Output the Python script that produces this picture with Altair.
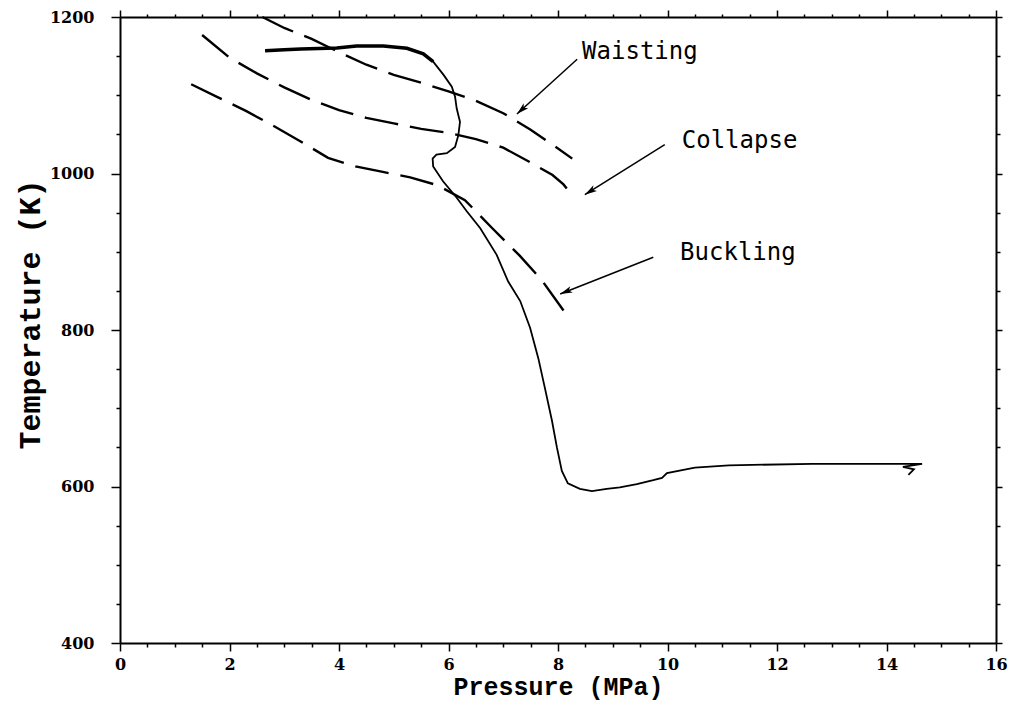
import altair as alt
import pandas as pd

# ---------------- data ----------------
# measured trajectory (solid line)
solid_p = [2.65, 3.0, 3.3, 3.96, 4.32, 4.81, 5.24, 5.54, 5.72, 5.91, 6.06, 6.12, 6.15, 6.21,
           6.18, 6.12, 5.97, 5.78, 5.71, 5.72, 5.90, 6.15, 6.33, 6.58, 6.88, 7.09, 7.31,
           7.49, 7.64, 7.76, 7.89, 7.98, 8.07, 8.18, 8.40, 8.62, 8.89, 9.13, 9.44, 9.74,
           9.90, 9.99, 10.5, 11.12, 12.64, 13.86, 14.65, 14.3, 14.5, 14.4]
solid_t = [1157, 1158, 1159, 1160.5, 1163, 1163, 1160, 1153, 1143, 1126, 1111, 1098, 1083, 1066,
           1049, 1034, 1026, 1024, 1019, 1009, 990, 969, 952, 930, 896, 862, 837,
           803, 764, 726, 684, 650, 620, 604, 597, 594, 597, 599, 603, 608,
           611, 617, 624, 627, 629, 629, 629, 625, 622, 615]

# dashed limit curves
waisting_p = [2.6, 3.0, 3.5, 4.0, 4.5, 5.0, 5.5, 6.0, 6.5, 7.0, 7.5, 8.0, 8.26]
waisting_t = [1200, 1186, 1172, 1155, 1139, 1126, 1116, 1105, 1093, 1077, 1056, 1032, 1019]

collapse_p = [1.5, 2.0, 2.5, 3.0, 3.5, 4.0, 4.5, 5.0, 5.5, 6.0, 6.5, 7.0, 7.5, 7.9, 8.1, 8.27]
collapse_t = [1177, 1148, 1128, 1110, 1094, 1081, 1071, 1064, 1057, 1052, 1044, 1033, 1014, 998, 986, 971]

buckling_p = [1.3, 1.8, 2.3, 2.8, 3.3, 3.8, 4.3, 4.8, 5.3, 5.8, 6.3, 6.8, 7.3, 7.7, 8.15]
buckling_t = [1114, 1097, 1080, 1061, 1041, 1020, 1009, 1002, 995, 985, 966, 930, 895, 864, 820]

# annotations
label_text = ["Waisting", "Collapse", "Buckling"]
label_p = [8.44, 10.26, 10.23]
label_t = [1155, 1041, 898]
arrow_from_p = [8.35, 9.95, 9.74]
arrow_from_t = [1146, 1037, 893]
arrow_to_p = [7.25, 8.49, 8.04]
arrow_to_t = [1076, 973, 846]
arrow_angle = [227.5, 238, 248]

x_ticks = [i * 0.5 for i in range(33)]
y_ticks = [400 + 50 * i for i in range(17)]

# ---------------- frames ----------------
def curve(p, t):
    return pd.DataFrame({"p": p, "t": t, "i": list(range(len(p)))})

solid_df = curve(solid_p, solid_t)
solid_thick_df = curve(solid_p[:9], solid_t[:9])
waist_df = curve(waisting_p, waisting_t)
coll_df = curve(collapse_p, collapse_t)
buck_df = curve(buckling_p, buckling_t)
lab_df = pd.DataFrame({"text": label_text, "p": label_p, "t": label_t})
arr_df = pd.DataFrame({"p": arrow_from_p, "t": arrow_from_t,
                       "p2": arrow_to_p, "t2": arrow_to_t, "angle": arrow_angle})

xs = alt.Scale(domain=[0, 16], nice=False, zero=False)
ys = alt.Scale(domain=[400, 1200], nice=False, zero=False)

TICK_FONT = "DejaVu Serif"
TITLE_FONT = "Liberation Mono"

x_bottom = alt.Axis(
    values=x_ticks, orient="bottom", title="Pressure (MPa)",
    labelExpr="datum.value % 2 === 0 ? format(datum.value, 'd') : ''",
    tickSize={"condition": {"test": "datum.value % 2 === 0", "value": 8}, "value": 4},
    labelFont=TICK_FONT, labelFontSize=16, labelFontWeight="bold", labelColor="black",
    labelPadding=5, labelFlush=False,
    titleFont=TITLE_FONT, titleFontSize=25, titleFontWeight="bold", titleColor="black",
    titlePadding=2, grid=False, domainColor="black", domainWidth=2,
    tickColor="black", tickWidth=1.5,
)
y_left = alt.Axis(
    values=y_ticks, orient="left", title="Temperature (K)",
    labelExpr="datum.value % 200 === 0 ? format(datum.value, 'd') : ''",
    tickSize={"condition": {"test": "datum.value % 200 === 0", "value": 9}, "value": 4},
    labelFont=TICK_FONT, labelFontSize=16, labelFontWeight="bold", labelColor="black",
    labelPadding=17, labelFlush=False,
    titleFont=TITLE_FONT, titleFontSize=30, titleFontWeight="bold", titleColor="black",
    titlePadding=4, titleY=297, grid=False, domainColor="black", domainWidth=2,
    tickColor="black", tickWidth=1.5,
)
x_top = alt.Axis(
    values=x_ticks, orient="top", title=None, labels=False,
    tickSize={"condition": {"test": "datum.value % 2 === 0", "value": 7}, "value": 3},
    grid=False, domainColor="black", domainWidth=2, tickColor="black", tickWidth=1.5,
)
y_right = alt.Axis(
    values=y_ticks, orient="right", title=None, labels=False,
    tickSize={"condition": {"test": "datum.value % 200 === 0", "value": 6}, "value": 4},
    grid=False, domainColor="black", domainWidth=2, tickColor="black", tickWidth=1.5,
)

solid = alt.Chart(solid_df).mark_line(color="black", strokeWidth=1.8).encode(
    x=alt.X("p:Q", scale=xs, axis=x_bottom),
    y=alt.Y("t:Q", scale=ys, axis=y_left),
    order="i:Q",
)
solid_thick = alt.Chart(solid_thick_df).mark_line(color="black", strokeWidth=3.5).encode(
    x=alt.X("p:Q", scale=xs, axis=x_top),
    y=alt.Y("t:Q", scale=ys, axis=y_right),
    order="i:Q",
)

def dashed(df):
    return alt.Chart(df).mark_line(color="black", strokeWidth=2.4, strokeDash=[34, 12]).encode(
        x=alt.X("p:Q", scale=xs, axis=None),
        y=alt.Y("t:Q", scale=ys, axis=None),
        order="i:Q",
    )

labels = alt.Chart(lab_df).mark_text(
    align="left", baseline="middle", font="DejaVu Sans Mono", fontSize=24, color="black"
).encode(
    x=alt.X("p:Q", scale=xs, axis=None),
    y=alt.Y("t:Q", scale=ys, axis=None),
    text="text:N",
)
arrows = alt.Chart(arr_df).mark_rule(color="black", strokeWidth=1.5).encode(
    x=alt.X("p:Q", scale=xs, axis=None),
    y=alt.Y("t:Q", scale=ys, axis=None),
    x2="p2:Q", y2="t2:Q",
)
heads = alt.Chart(arr_df).mark_point(
    shape="M0,0L0.55,2L0,1.5L-0.55,2Z", filled=True, color="black", size=150, opacity=1
).encode(
    x=alt.X("p2:Q", scale=xs, axis=None),
    y=alt.Y("t2:Q", scale=ys, axis=None),
    angle=alt.Angle("angle:Q", scale=None),
)

chart = alt.layer(
    solid, solid_thick, dashed(waist_df), dashed(coll_df), dashed(buck_df),
    arrows, heads, labels,
).resolve_axis(x="independent", y="independent").properties(
    width=876, height=626,
    autosize=alt.AutoSizeParams(type="none"),
    padding={"left": 112, "top": 9, "right": 15, "bottom": 58},
    background="white",
).configure_view(stroke=None)

chart.save("out.html", embed_options={"renderer": "svg", "actions": False})
